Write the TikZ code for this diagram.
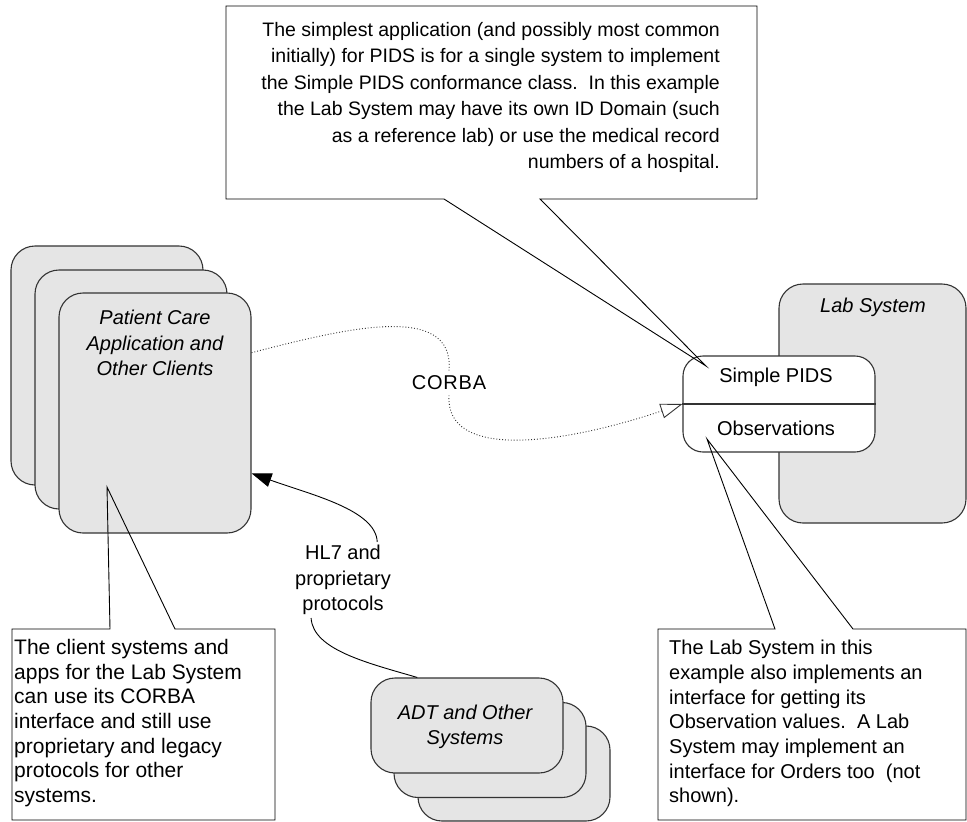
\documentclass[tikz,border=0pt]{standalone}
\usepackage{fontspec}
\setmainfont{Liberation Sans}
\usetikzlibrary{arrows.meta}

\begin{document}
\begin{tikzpicture}[auto, x=1pt, y=-1pt,
    sys/.style={draw=black!80, line width=1.1pt, fill=black!10, rounded corners=24pt, minimum width=192pt, inner sep=0pt},
    lbl/.style={font=\fontsize{20}{25.5}\selectfont, align=center, inner sep=0pt},
    sysname/.style={lbl, font=\fontsize{20}{25.5}\selectfont\itshape},
    note/.style={draw, line width=0.9pt},
    notetext/.style={font=\fontsize{20}{24.7}\selectfont, align=left, inner sep=0pt, anchor=north west}]

    \useasboundingbox (0,0) rectangle (967,822);

    \node[sys, minimum height=239pt] (p1) at (107,365.5) {};
    \node[sys, minimum height=239pt] (p2) at (131,389.5) {};
    \node[sys, minimum height=240pt] (p3) at (155,413) {};
    \node[sysname] (pc) at (155,343) {Patient Care\\Application and\\Other Clients};

    \node[sys, minimum width=187pt, minimum height=239pt] (lab) at (872.5,403.5) {};
    \node[sysname] (labname) at (873,307) {Lab System};
    \node[sys, fill=white, rounded corners=20pt, minimum height=96pt] (pids) at (779,404) {};
    \draw [black!80, line width=1.1pt] (pids.west) -- (pids.east);
    \node[lbl] (s) at (776,377) {Simple PIDS};
    \node[lbl] (o) at (776,428) {Observations};

    \node[sys, minimum height=95pt] (d3) at (514,773.5) {};
    \node[sys, minimum height=95pt] (d2) at (490,750) {};
    \node[sys, minimum height=95pt] (d1) at (467,725.5) {};
    \node[sysname] (adt) at (465,726.6) {ADT and Other\\Systems};

    \node[lbl, inner sep=5pt, font=\fontsize{20}{25.5}\selectfont\addfontfeature{LetterSpace=4}] (corba) at (449,383) {CORBA};
    \node[lbl, inner sep=3pt] (hl7) at (343,580) {HL7 and\\proprietary\\protocols};

    \draw [dotted, line width=0.9pt, black!80] (p3.32) .. controls (340,330) and (455,300) .. (corba.north);
    \draw [dotted, line width=0.9pt, black!80, -{Triangle[open, length=22pt, width=15pt]}] (corba.south) .. controls (445,460) and (560,445) .. (pids.west);
    \draw [line width=0.9pt, -{Triangle[length=20pt, width=14pt]}] (hl7.48) .. controls (376,510) and (312,495) .. (p3.-32);
    \draw [line width=0.9pt] (hl7.-130) .. controls (313,650) and (368,663) .. (d1.136);

    \coordinate (t1) at (706,366);
    \coordinate (t2) at (107,487);
    \coordinate (t3) at (707,439);
    \draw [note] (226,6) -- (757,6) -- (757,199) -- (540,199) -- (t1) -- (444,199) -- (226,199) -- cycle;
    \draw [note] (12,629) -- (110,629) -- (t2) -- (175,629) -- (275,629) -- (275,820) -- (12,820) -- cycle;
    \draw [note] (658,629) -- (775,629) -- (t3) -- (853,629) -- (966,629) -- (966,820) -- (658,820) -- cycle;

    \node[notetext, anchor=north east, align=right, font=\fontsize{19.5}{26.5}\selectfont] (n1) at (720,22) {The simplest application (and possibly most common\\initially) for PIDS is for a single system to implement\\the Simple PIDS conformance class.\ \ In this example\\the Lab System may have its own ID Domain (such\\as a reference lab) or use the medical record\\numbers of a hospital.};
    \node[notetext, font=\fontsize{21}{24.7}\selectfont] (n2) at (14,639) {The client systems and\\apps for the Lab System\\can use its CORBA\\interface and still use\\proprietary and legacy\\protocols for other\\systems.};
    \node[notetext] (n3) at (669,640) {The Lab System in this\\example also implements an\\interface for getting its\\Observation values.\ \ A Lab\\System may implement an\\interface for Orders too\ \ (not\\shown).};

\end{tikzpicture}
\end{document}
